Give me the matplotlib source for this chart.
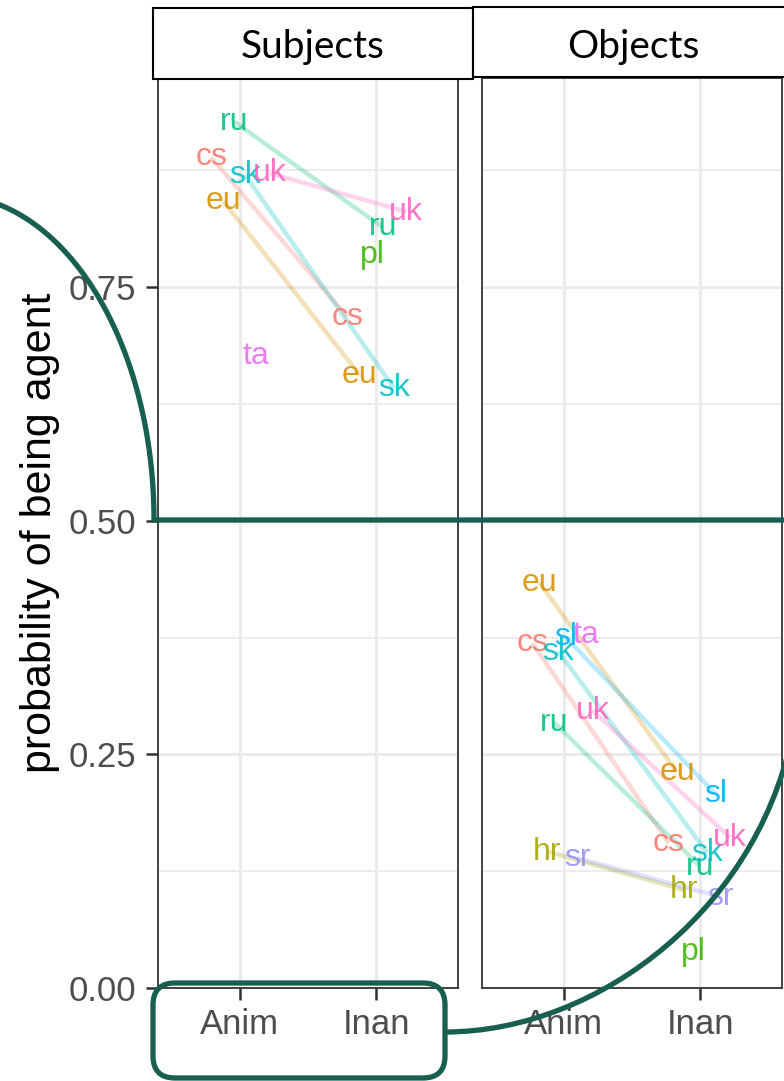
import numpy as np
import matplotlib
matplotlib.use('Agg')
import matplotlib.pyplot as plt
from matplotlib.patches import FancyBboxPatch, Rectangle, PathPatch
from matplotlib.path import Path
from matplotlib.ticker import FixedLocator

nan = np.nan

# ---------------- data ----------------
languages = ['cs', 'eu', 'hr', 'pl', 'ru', 'sk', 'sl', 'sr', 'ta', 'uk']
lang_colors = ['#F8766D', '#D89000', '#A3A500', '#39B600', '#00BF7D',
               '#00BFC4', '#00B0F6', '#9590FF', '#E76BF3', '#FF62BC']
animacy = ['Anim', 'Inan']
facets = ['Subjects', 'Objects']

# probability of being agent (per language, per animacy)
subj_anim = [0.889, 0.842, nan, nan, 0.927, 0.870, nan, nan, 0.676, 0.872]
subj_inan = [0.718, 0.656, nan, 0.785, 0.814, 0.642, nan, nan, nan, 0.831]
obj_anim = [0.369, 0.434, 0.146, nan, 0.284, 0.360, 0.376, 0.139, 0.378, 0.297]
obj_inan = [0.155, 0.231, 0.105, 0.0385, 0.130, 0.145, 0.208, 0.0975, nan, 0.161]

# horizontal jitter of the labels (category units)
subj_anim_jit = [-0.21, -0.12, 0, 0, -0.04, 0.04, 0, 0, 0.12, 0.22]
subj_inan_jit = [-0.21, -0.12, 0, -0.03, 0.05, 0.13, 0, 0, 0, 0.22]
obj_anim_jit = [-0.23, -0.18, -0.12, 0, -0.07, -0.04, 0.01, 0.10, 0.16, 0.21]
obj_inan_jit = [-0.23, -0.17, -0.12, -0.05, 0.0, 0.05, 0.11, 0.15, 0, 0.22]

y_ticks = [0.0, 0.25, 0.50, 0.75]
y_tick_labels = ['0.00', '0.25', '0.50', '0.75']
y_minor = [0.125, 0.375, 0.625, 0.875]

# ---------------- figure ----------------
W, H = 784, 1081
plt.rcParams['font.family'] = ['Liberation Sans', 'DejaVu Sans']
fig = plt.figure(figsize=(W / 100, H / 100), dpi=100)
fig.patch.set_facecolor('white')


def px_axes(x0, y0, x1, y1):
    return [x0 / W, 1 - y1 / H, (x1 - x0) / W, (y1 - y0) / H]


ax_s = fig.add_axes(px_axes(158, 78, 458, 988))
ax_o = fig.add_axes(px_axes(482, 78, 782, 988))

panels = [
    (ax_s, subj_anim, subj_inan, subj_anim_jit, subj_inan_jit),
    (ax_o, obj_anim, obj_inan, obj_anim_jit, obj_inan_jit),
]

for k, (ax, va, vi, ja, ji) in enumerate(panels):
    for i, lang in enumerate(languages):
        xa, xi = 1 + ja[i], 2 + ji[i]
        if not (np.isnan(va[i]) or np.isnan(vi[i])):
            ax.plot([xa, xi], [va[i], vi[i]], color=lang_colors[i], alpha=0.28,
                    lw=3.2, solid_capstyle='butt', zorder=2)
    for i, lang in enumerate(languages):
        for x, v in ((1 + ja[i], va[i]), (2 + ji[i], vi[i])):
            if not np.isnan(v):
                ax.text(x, v, lang, color=lang_colors[i], alpha=0.88,
                        fontsize=23, ha='center', va='center', zorder=3)
    ax.set_xlim(0.4, 2.6)
    ax.set_ylim(0, 0.974)
    ax.set_xticks([1, 2])
    ax.set_xticklabels(animacy)
    ax.yaxis.set_major_locator(FixedLocator(y_ticks))
    ax.yaxis.set_minor_locator(FixedLocator(y_minor))
    ax.grid(which='major', color='#EBEBEB', lw=2.2)
    ax.grid(which='minor', axis='y', color='#EBEBEB', lw=1.3)
    ax.set_axisbelow(True)
    ax.tick_params(which='minor', length=0)
    ax.tick_params(axis='x', which='major', length=8.5, width=1.8,
                   color='#333333', labelcolor='#4D4D4D', labelsize=25, pad=6)
    for sp in ax.spines.values():
        sp.set_color('#333333')
        sp.set_linewidth(1.3)
    if k == 0:
        ax.set_yticklabels(y_tick_labels)
        ax.tick_params(axis='y', which='major', length=8.5, width=1.8,
                       color='#333333', labelcolor='#4D4D4D', labelsize=25, pad=7)
        ax.set_ylabel('probability of being agent', fontsize=31, color='black')
        ax.yaxis.set_label_coords(-0.327, 0.5)
    else:
        ax.tick_params(axis='y', which='major', length=0, labelleft=False)

# ---------------- overlay annotations (pixel coordinates) ----------------
G = '#17604F'
ov = fig.add_axes([0, 0, 1, 1], zorder=10)
ov.set_xlim(0, W)
ov.set_ylim(H, 0)
ov.axis('off')
ov.patch.set_alpha(0)

# facet strips
ov.add_patch(Rectangle((153, 8), 320, 71, fc='white', ec='black', lw=1.5))
ov.add_patch(Rectangle((473, 7), 330, 70, fc='white', ec='black', lw=1.5))
strip_x = [313, 633]
for name, sx in zip(facets, strip_x):
    ov.text(sx, 58, name, ha='center', va='baseline', fontsize=28,
            family=['Lato', 'DejaVu Sans'], color='black')

# left arc + horizontal line at 0.50
theta = np.linspace(np.radians(125), 0, 300)
xs = list(-50 + 204 * np.cos(theta)) + [W + 10]
ys = list(520 - 325 * np.sin(theta)) + [520]
ov.plot(xs, ys, color=G, lw=3.8, solid_joinstyle='miter', solid_capstyle='butt')

# rounded box around the x labels
ov.add_patch(FancyBboxPatch((153, 983), 292, 95,
                            boxstyle='round,pad=0,rounding_size=22',
                            fc='none', ec=G, lw=3.8))

# bottom-right arc
arc = Path([(445, 1032), (600, 1032), (765, 905), (795, 720)],
           [Path.MOVETO, Path.CURVE4, Path.CURVE4, Path.CURVE4])
ov.add_patch(PathPatch(arc, fc='none', ec=G, lw=3.8))

fig.savefig('out.png', dpi=100, facecolor='white')
